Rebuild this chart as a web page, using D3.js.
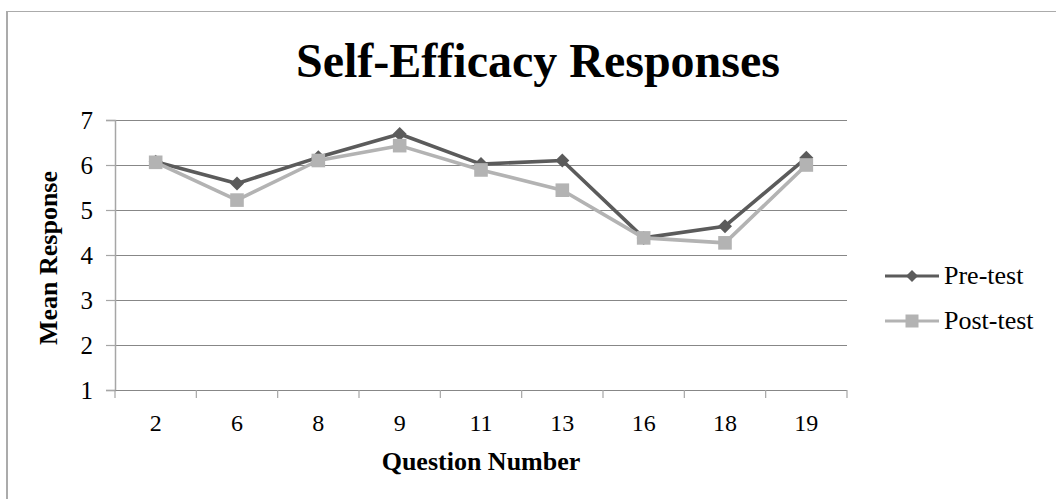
<!DOCTYPE html>
<html>
<head>
<meta charset="utf-8">
<script src="https://cdn.jsdelivr.net/npm/d3@7/dist/d3.min.js"></script>
<style>
  html, body { margin: 0; padding: 0; background: #fff; }
  svg { display: block; }
  text { font-family: "Liberation Serif", "Times New Roman", serif; fill: #000; }
</style>
</head>
<body>
<svg id="chart" width="1056" height="499"></svg>
<script>
// Question numbers on the horizontal axis
const questions = ["2", "6", "8", "9", "11", "13", "16", "18", "19"];
// Mean responses per question
const preTest  = [6.07, 5.59, 6.17, 6.69, 6.02, 6.10, 4.38, 4.64, 6.16];
const postTest = [6.06, 5.22, 6.10, 6.43, 5.89, 5.44, 4.38, 4.27, 6.00];
const yTicks = [1, 2, 3, 4, 5, 6, 7];
const seriesNames = ["Pre-test", "Post-test"];

const svg = d3.select("#chart");
const W = 1056, H = 499;
const plot = { left: 115, right: 847, top: 120, bottom: 390 };

// outer chart frame
svg.append("rect")
  .attr("x", 7).attr("y", 11.5)
  .attr("width", W + 20).attr("height", H + 20)
  .attr("fill", "none").attr("stroke", "#ababab").attr("stroke-width", 1);
svg.append("line")
  .attr("x1", 7).attr("x2", 7).attr("y1", 11).attr("y2", H)
  .attr("stroke", "#ababab").attr("stroke-width", 2);

const x = d3.scalePoint().domain(questions).range([plot.left, plot.right]).padding(0.5);
const band = d3.scaleBand().domain(questions).range([plot.left, plot.right]);
const y = d3.scaleLinear().domain([1, 7]).range([plot.bottom, plot.top]);

// horizontal gridlines
svg.append("g").selectAll("line")
  .data(yTicks)
  .join("line")
  .attr("x1", plot.left).attr("x2", plot.right)
  .attr("y1", d => Math.round(y(d)) + 0.5).attr("y2", d => Math.round(y(d)) + 0.5)
  .attr("stroke", "#878787").attr("stroke-width", 1.2);

// y axis
const yAxis = svg.append("g")
  .attr("transform", `translate(${plot.left},0)`)
  .call(d3.axisLeft(y).tickValues(yTicks).tickSize(9).tickPadding(13).tickFormat(d3.format("d")));
yAxis.select(".domain").attr("stroke", "#a6a6a6").attr("stroke-width", 1.5);
yAxis.selectAll(".tick line").attr("stroke", "#a6a6a6").attr("stroke-width", 1.2);
yAxis.selectAll(".tick text")
  .style("font-family", '"Liberation Serif", serif').style("font-size", "25px").attr("fill", "#000");

// x axis: line along the bottom, ticks at category boundaries
const boundaries = questions.map(q => band(q)).concat([plot.right]);
svg.append("line")
  .attr("x1", plot.left).attr("x2", plot.right)
  .attr("y1", plot.bottom + 0.5).attr("y2", plot.bottom + 0.5)
  .attr("stroke", "#878787").attr("stroke-width", 1.2);
svg.append("g").selectAll("line")
  .data(boundaries)
  .join("line")
  .attr("x1", d => d).attr("x2", d => d)
  .attr("y1", plot.bottom).attr("y2", plot.bottom + 8)
  .attr("stroke", "#a6a6a6").attr("stroke-width", 1.2);
svg.append("g").selectAll("text")
  .data(questions)
  .join("text")
  .attr("x", d => x(d)).attr("y", 431)
  .attr("text-anchor", "middle")
  .style("font-size", "24px")
  .text(d => d);

// titles
svg.append("text")
  .attr("x", 538).attr("y", 77)
  .attr("text-anchor", "middle")
  .style("font-size", "48px").style("font-weight", "bold")
  .text("Self-Efficacy Responses");
svg.append("text")
  .attr("x", (plot.left + plot.right) / 2).attr("y", 470)
  .attr("text-anchor", "middle")
  .style("font-size", "26px").style("font-weight", "bold")
  .text("Question Number");
svg.append("text")
  .attr("transform", `translate(57,${(plot.top + plot.bottom) / 2 + 3}) rotate(-90)`)
  .attr("text-anchor", "middle")
  .style("font-size", "26px").style("font-weight", "bold")
  .text("Mean Response");

// series
const colors = ["#5b5b5b", "#b3b3b3"];
const values = [preTest, postTest];
const line = d3.line().x((d, i) => x(questions[i])).y(d => y(d));
const diamond = d3.symbol().type(d3.symbolDiamond2 || d3.symbolDiamond);

function drawMarker(g, kind, cx, cy, color, s) {
  if (kind === 0) {
    g.append("path")
      .attr("d", `M${cx},${cy - s}L${cx + s},${cy}L${cx},${cy + s}L${cx - s},${cy}Z`)
      .attr("fill", color);
  } else {
    g.append("rect")
      .attr("x", cx - s).attr("y", cy - s)
      .attr("width", 2 * s).attr("height", 2 * s)
      .attr("fill", color);
  }
}

values.forEach((vals, k) => {
  const g = svg.append("g");
  g.append("path")
    .datum(vals)
    .attr("d", line)
    .attr("fill", "none")
    .attr("stroke", colors[k])
    .attr("stroke-width", 3.6)
    .attr("stroke-linejoin", "round");
  vals.forEach((v, i) => drawMarker(g, k, x(questions[i]), y(v), colors[k], k === 0 ? 7 : 6.8));
});

// legend
const legend = svg.append("g");
seriesNames.forEach((name, k) => {
  const cy = 276 + k * 45;
  legend.append("line")
    .attr("x1", 885).attr("x2", 939).attr("y1", cy).attr("y2", cy)
    .attr("stroke", colors[k]).attr("stroke-width", 3.2);
  drawMarker(legend, k, 912, cy, colors[k], k === 0 ? 6 : 6.5);
  legend.append("text")
    .attr("x", 944).attr("y", cy + 8)
    .style("font-size", "26px")
    .text(name);
});
</script>
</body>
</html>
